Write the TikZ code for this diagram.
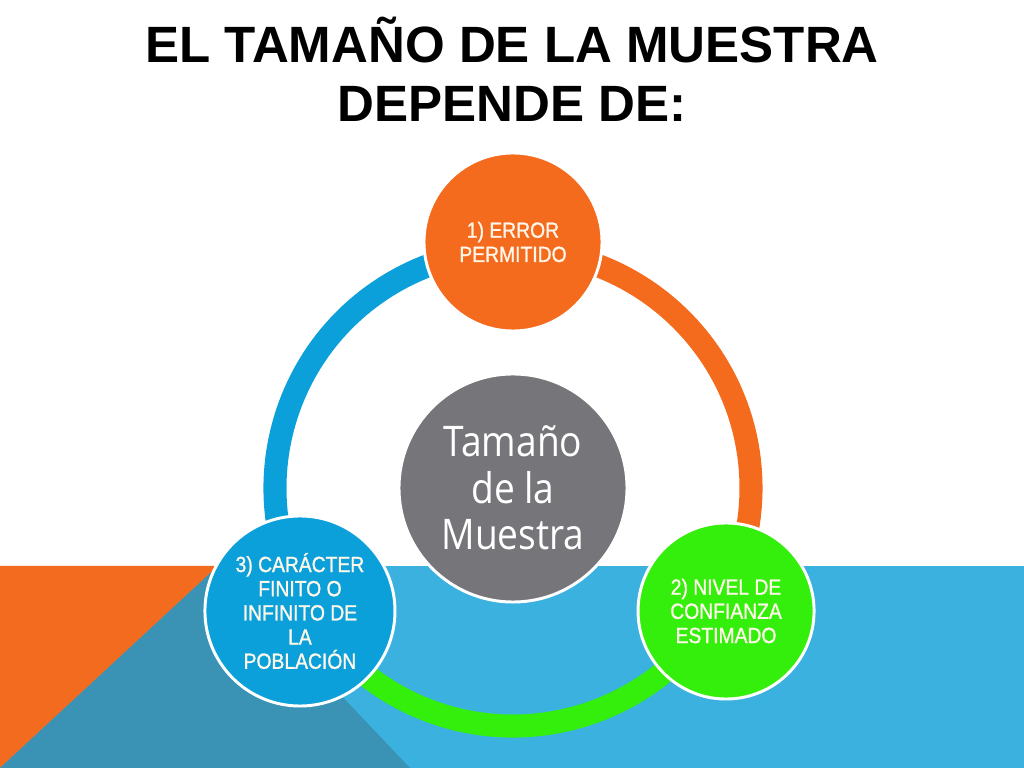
\documentclass[tikz,border=0pt]{standalone}
\usepackage{fontspec}
\setmainfont{Liberation Sans}
\newfontfamily\itemfont[FakeStretch=0.88, FakeBold=1.2]{Liberation Sans}
\newfontfamily\corefont[FakeStretch=0.88]{Open Sans}
\usetikzlibrary{positioning}

\definecolor{ringorange}{RGB}{245,107,30}
\definecolor{ringblue}{RGB}{12,160,218}
\definecolor{ringgreen}{RGB}{52,238,12}
\definecolor{coregray}{RGB}{118,118,122}
\definecolor{bgblue}{RGB}{59,177,223}
\definecolor{bgteal}{RGB}{58,147,180}
\definecolor{bgorange}{RGB}{243,107,30}
\definecolor{txtcream}{RGB}{255,248,234}

\begin{document}
\begin{tikzpicture}[
        x=0.025cm, y=0.025cm,
        titletext/.style={
            font=\bfseries\fontsize{36.3}{42}\selectfont,
            anchor=base, inner sep=0pt
        },
        core/.style={
            circle, fill=coregray, draw=white, line width=2.1pt,
            minimum size=5.7cm, inner sep=0pt, align=center,
            text=white, font=\corefont\fontsize{30}{33}\selectfont
        },
        item/.style={
            circle, draw=white, line width=2.1pt, inner sep=0pt,
            align=center, text=txtcream,
            font=\itemfont\fontsize{15.6}{17.2}\selectfont
        },
        ringarc/.style={line width=16.4pt}
        ]

    \useasboundingbox (0,0) rectangle (1024,768);

    % --- Fondo ---
        \fill[white] (0,0) rectangle (1024,768);
        \fill[bgblue] (0,0) rectangle (1024,202);
        \fill[bgorange] (0,0) -- (0,202) -- (218,202) -- cycle;
        \fill[bgteal] (0,0) -- (218,202) -- (410,0) -- cycle;

    % --- Titulo ---
        \node[titletext] (titulo1) at (512,705) {EL TAMAÑO DE LA MUESTRA};
        \node[titletext] (titulo2) at (512,646) {DEPENDE DE:};

    % --- Anillo: tres arcos entre los circulos ---
        \coordinate (centro) at (513,280);
        \coordinate (p1) at ([shift={(90:238)}]centro);
        \coordinate (p2) at ([shift={(-30:238)}]centro);
        \coordinate (p3) at ([shift={(210:238)}]centro);

        \draw[ringarc, ringorange] (p1) arc[start angle=90, end angle=-30, radius=238];
        \draw[ringarc, ringgreen] (p2) arc[start angle=-30, end angle=-150, radius=238];
        \draw[ringarc, ringblue] (p3) arc[start angle=210, end angle=90, radius=238];

    % --- Circulo central ---
        \node[core] (tamano) at (centro) {Tamaño\\de la\\Muestra};

    % --- Factores ---
        \node[item, fill=ringorange, minimum size=4.45cm] (error)
            at ([shift={(90:246)}]centro) {1) ERROR\\PERMITIDO};
        \node[item, fill=ringgreen, minimum size=4.4cm] (nivel)
            at ([shift={(-30:246)}]centro) {2) NIVEL DE\\CONFIANZA\\ESTIMADO};
        \node[item, fill=ringblue, minimum size=4.75cm] (caracter)
            at ([shift={(210:246)}]centro) {3) CARÁCTER\\FINITO O\\INFINITO DE\\LA\\POBLACIÓN};

\end{tikzpicture}
\end{document}
